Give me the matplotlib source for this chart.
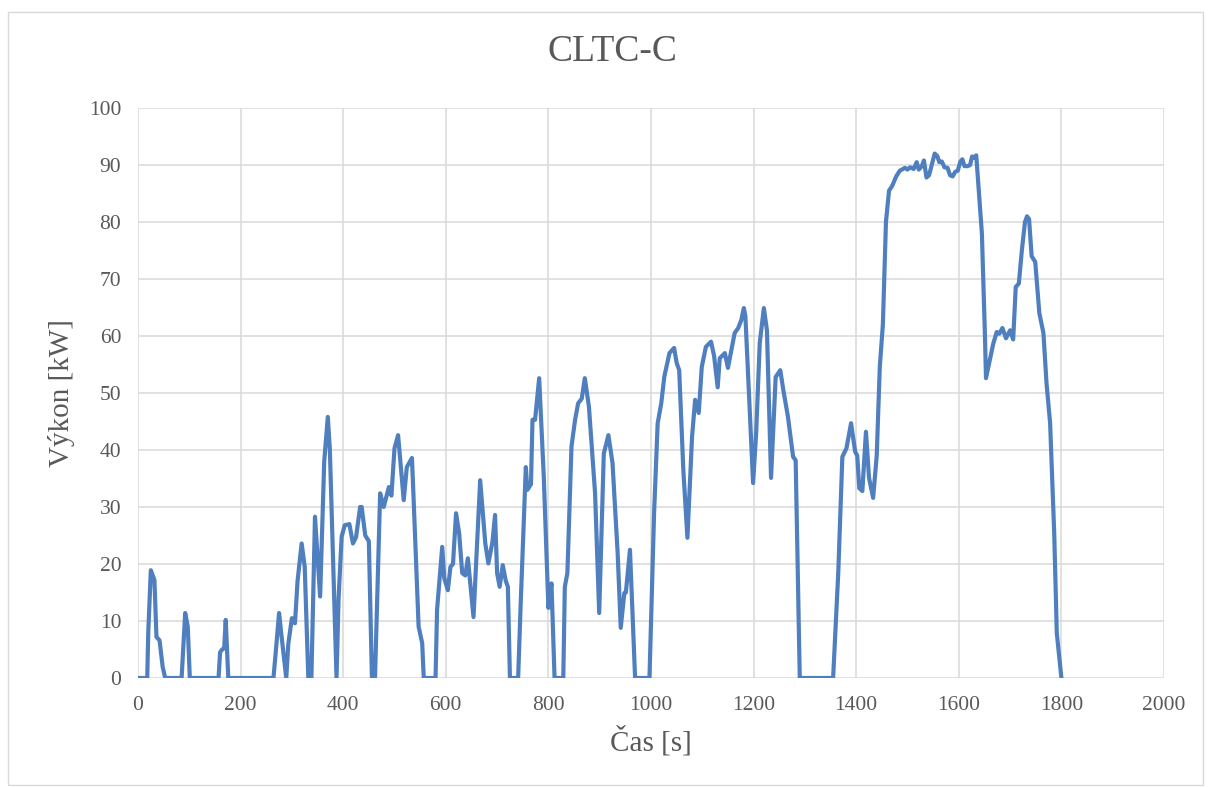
import matplotlib.pyplot as plt
from matplotlib.patches import Rectangle

# CLTC-C power trace
t = [0, 18, 20, 25, 32, 36, 42, 48, 53, 85, 88, 92, 97, 101,
     157, 160, 164, 168, 171, 176, 264, 268, 275, 279, 289,
     293, 300, 306, 311, 319, 325, 332, 338, 345, 355, 363, 370, 374, 387,
     391, 397, 403, 412, 419, 425, 433, 436, 443, 450, 456, 462,
     472, 479, 489, 494, 500, 507, 518, 524, 534, 537, 547, 554, 557, 580,
     583, 593, 597, 604, 609, 614, 620, 626, 632, 638, 643, 654, 667, 677,
     683, 691, 696, 700, 705, 711, 717, 721, 725, 741,
     746, 756, 759, 766, 769, 774, 782, 791, 800, 806, 812, 829,
     832, 837, 845, 852, 858, 865, 871, 879, 891, 899, 908, 917,
     925, 935, 941, 948, 951, 959, 969, 997,
     1006, 1013, 1020, 1026, 1036, 1045, 1050, 1055, 1063, 1071, 1080,
     1086, 1093, 1099, 1107, 1117, 1123, 1130, 1134, 1144, 1150,
     1163, 1170, 1176, 1181, 1184, 1199, 1205, 1212, 1220, 1226, 1234,
     1243, 1252, 1258, 1267, 1277, 1282, 1290, 1355,
     1365, 1373, 1381, 1390, 1398, 1402, 1406, 1412, 1419, 1425, 1433,
     1440, 1446, 1452, 1458, 1464, 1470, 1478, 1485, 1495, 1500, 1505,
     1512, 1518, 1522, 1528, 1532, 1537, 1542, 1548, 1553, 1558, 1562,
     1567, 1572, 1578, 1583, 1588, 1593, 1598, 1603, 1607, 1611, 1617,
     1622, 1626, 1630, 1634, 1641, 1645, 1651, 1653,
     1659, 1667, 1674, 1679, 1685, 1692, 1700, 1706, 1711, 1717, 1723,
     1729, 1733, 1737, 1742, 1749, 1757, 1765, 1771, 1778, 1786, 1791, 1800]
p = [0, 0, 8, 18.9, 17.2, 7.2, 6.6, 2, 0, 0, 5, 11.4, 9, 0,
     0, 4.5, 5, 5.2, 10.2, 0, 0, 4, 11.4, 8, 0,
     6, 10.5, 9.6, 17, 23.6, 19.5, 0, 0, 28.3, 14.3, 38, 45.8, 40, 0,
     14, 24.8, 26.8, 27, 23.6, 24.7, 30, 30, 25, 24, 0, 0,
     32.4, 30, 33.5, 32, 40.3, 42.6, 31.2, 37, 38.6, 32, 9, 6.1, 0, 0,
     12, 23, 17.5, 15.4, 19.5, 20, 28.9, 25.4, 18.4, 18, 21, 10.7, 34.7, 23.6,
     20.1, 23.9, 28.6, 18.4, 16, 19.8, 17, 16, 0, 0,
     13.1, 37, 33, 34, 45.3, 45.3, 52.6, 35.3, 12.3, 16.6, 0, 0,
     16, 18.4, 40.6, 45.3, 48.2, 49, 52.6, 47.6, 32.4, 11.4, 39.4, 42.6,
     37.7, 21.9, 8.8, 14.9, 15, 22.5, 0, 0,
     28.9, 44.7, 48.2, 52.9, 57, 57.9, 55.3, 54, 36.5, 24.6, 42.3,
     48.8, 46.5, 54.6, 58.1, 59, 56.5, 51, 56.1, 57, 54.4,
     60.5, 61.4, 62.8, 64.9, 63.5, 34.2, 43, 58.8, 64.9, 61, 35.1,
     52.8, 54, 50.5, 45.8, 38.8, 38.2, 0, 0,
     18.4, 38.8, 40.3, 44.7, 39.7, 39, 33.3, 32.8, 43.2, 35.1, 31.6,
     39, 54.6, 62, 80, 85.5, 86.3, 88, 89, 89.5, 89.2, 89.6,
     89.3, 90.5, 89.2, 89.8, 90.8, 87.8, 88.2, 90.3, 92, 91.6, 90.5,
     90.6, 89.6, 89.5, 88.2, 88, 88.8, 89, 90.6, 91, 89.8, 89.8,
     90, 91.5, 91.3, 91.7, 83, 78, 60, 52.6,
     55.2, 58.6, 60.7, 60.4, 61.4, 59.6, 61, 59.4, 68.6, 69.2, 75.1,
     80, 81, 80.5, 74, 73, 64, 60.5, 51.7, 44.7, 25.4, 7.9, 0]

x_ticks = [0, 200, 400, 600, 800, 1000, 1200, 1400, 1600, 1800, 2000]
y_ticks = [0, 10, 20, 30, 40, 50, 60, 70, 80, 90, 100]

grey = '#595959'
plt.rcParams['font.family'] = ['Liberation Serif', 'DejaVu Serif']

fig = plt.figure(figsize=(12.08, 7.87), dpi=100)
ax = fig.add_axes([138 / 1208, 1 - 678 / 787, (1164 - 138) / 1208, (678 - 108) / 787])

# chart-area frame like excel
fig.patches.append(Rectangle((8 / 1208, 2 / 787), 1195 / 1208, 773 / 787,
                             transform=fig.transFigure, fill=False,
                             edgecolor='#d9d9d9', lw=1))

ax.plot(t, p, color='#4f7fbf', lw=3, solid_joinstyle='round', zorder=3)

ax.set_xlim(0, 2000)
ax.set_ylim(0, 100)
ax.set_xticks(x_ticks)
ax.set_yticks(y_ticks)
ax.grid(True, color='#d9d9d9', lw=1.1)
ax.set_axisbelow(True)
for s in ax.spines.values():
    s.set_visible(False)
ax.tick_params(length=0, labelsize=15.5, labelcolor=grey)
ax.tick_params(axis='x', pad=13)
ax.tick_params(axis='y', pad=12)

fig.suptitle('CLTC-C', x=612 / 1208, y=1 - 52 / 787, va='center',
             fontsize=27, color=grey)
ax.set_xlabel('Čas [s]', fontsize=21, color=grey, labelpad=8)
ax.set_ylabel('Výkon [kW]', fontsize=21, color=grey, labelpad=10)

fig.savefig('out.png', dpi=100)
